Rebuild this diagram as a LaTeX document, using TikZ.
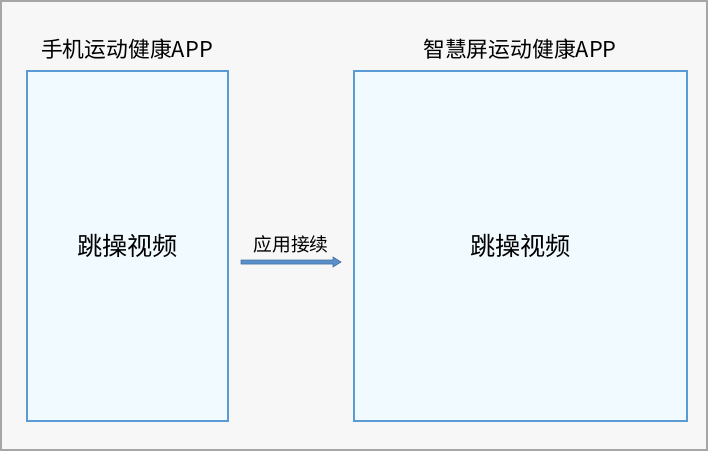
\documentclass[tikz,border=0pt]{standalone}
\usepackage{fontspec}
\setmainfont{Noto Sans CJK SC}
\usetikzlibrary{calc}
\definecolor{framegray}{HTML}{A6A6A6}
\definecolor{bggray}{HTML}{F7F7F7}
\definecolor{boxfill}{HTML}{F0FAFF}
\definecolor{boxline}{HTML}{5B9BD5}
\definecolor{arrfill}{HTML}{5B8FCB}
\definecolor{arrline}{HTML}{41719C}
\begin{document}
\begin{tikzpicture}[x=1pt,y=-1pt,
  appbox/.style={draw=boxline, line width=1.6pt, fill=boxfill},
  title/.style={font=\fontsize{21.8}{26}\selectfont, text=black, inner sep=0},
  content/.style={font=\fontsize{25.2}{30}\selectfont, text=black, inner sep=0},
  lbl/.style={font=\fontsize{18.8}{22}\selectfont, text=black, inner sep=0}]
\useasboundingbox (0,0) rectangle (708,451);
\draw[draw=framegray, line width=2pt, fill=bggray] (1,1) rectangle (707,450);
% boxes
\draw[appbox] (27,71) rectangle (228,421);
\coordinate (L) at (127.5,246);
\draw[appbox] (354,71) rectangle (687,421);
\coordinate (R) at (520.5,246);
\node[title] (t1) at (127,49) {手机运动健康APP};
\node[title] (t2) at (520,49) {智慧屏运动健康APP};
\node[content] (c1) at (L) {跳操视频};
\node[content] (c2) at (R) {跳操视频};
% arrow
\coordinate (as) at (241,262);
\coordinate (ae) at (341,262);
\node[lbl] (al) at (291,244) {应用接续};
\draw[draw=arrline, fill=arrfill, line width=0.6pt]
  ($(as)+(0,-2)$) -- ($(ae)+(-8,-2)$) -- ($(ae)+(-8,-5)$) -- (ae)
  -- ($(ae)+(-8,5)$) -- ($(ae)+(-8,2)$) -- ($(as)+(0,2)$) -- cycle;
\end{tikzpicture}
\end{document}
